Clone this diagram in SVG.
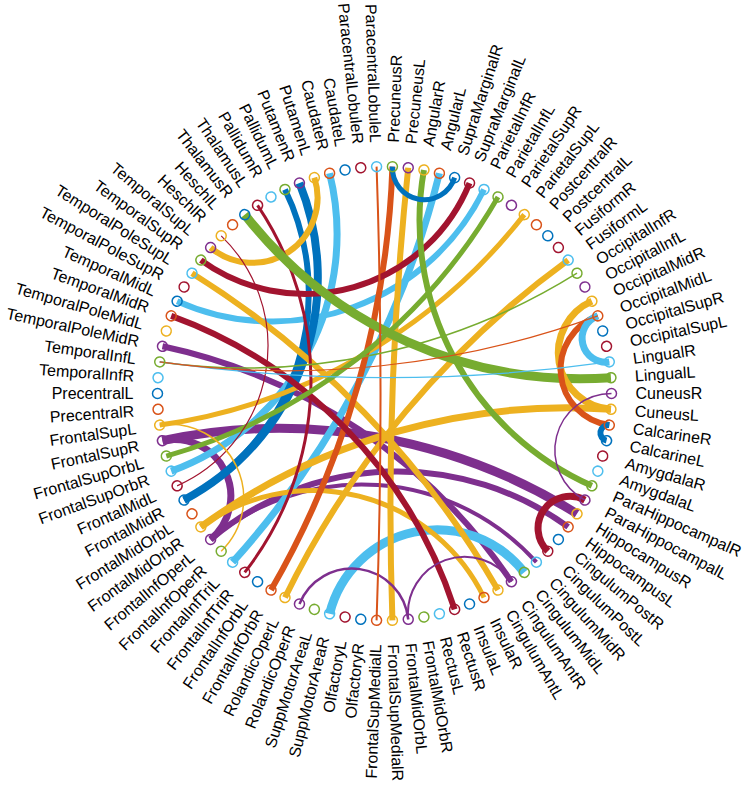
<svg xmlns="http://www.w3.org/2000/svg" width="746" height="789" viewBox="0 0 746 789">
<style>
text{font-family:"Liberation Sans",Arial,sans-serif;font-size:16px;fill:#000;stroke:none}
.n circle{fill:none;stroke-width:1.5}
.e use{fill:none}
.k0{stroke:#0072BD}.k1{stroke:#D95319}.k2{stroke:#EDB120}.k3{stroke:#7E2F8E}.k4{stroke:#77AC30}.k5{stroke:#4DBEEE}.k6{stroke:#A2142F}
</style>
<defs>
<path id="h2" d="M226.86,-7.92A7.93,7.93 0 0 0 226.86,7.92"/>
<path id="h6" d="M225.75,-23.73A23.86,23.86 0 0 0 225.75,23.73"/>
<path id="h8" d="M224.79,-31.59A31.9,31.9 0 0 0 224.79,31.59"/>
<path id="h14" d="M220.26,-54.92A56.6,56.6 0 0 0 220.26,54.92"/>
<path id="h16" d="M218.21,-62.57A65.09,65.09 0 0 0 218.21,62.57"/>
<path id="h18" d="M215.89,-70.15A73.76,73.76 0 0 0 215.89,70.15"/>
<path id="h26" d="M204.03,-99.52A110.71,110.71 0 0 0 204.03,99.52"/>
<path id="h34" d="M188.18,-126.94A153.11,153.11 0 0 0 188.18,126.94"/>
<path id="h38" d="M178.88,-139.76A177.36,177.36 0 0 0 178.88,139.76"/>
<path id="h40" d="M173.88,-145.92A190.48,190.48 0 0 0 173.88,145.92"/>
<path id="h46" d="M157.7,-163.28A235.06,235.06 0 0 0 157.7,163.28"/>
<path id="h48" d="M151.89,-168.68A252.11,252.11 0 0 0 151.89,168.68"/>
<path id="h52" d="M139.76,-178.88A290.54,290.54 0 0 0 139.76,178.88"/>
<path id="h54" d="M133.43,-183.64A312.44,312.44 0 0 0 133.43,183.64"/>
<path id="h62" d="M106.58,-200.42A426.92,426.92 0 0 0 106.58,200.42"/>
<path id="h64" d="M99.52,-204.03A465.42,465.42 0 0 0 99.52,204.03"/>
<path id="h68" d="M85.03,-210.47A561.85,561.85 0 0 0 85.03,210.47"/>
<path id="h70" d="M77.64,-213.31A623.68,623.68 0 0 0 77.64,213.31"/>
<path id="h76" d="M54.92,-220.26A910.45,910.45 0 0 0 54.92,220.26"/>
<path id="h82" d="M31.59,-224.79A1615.2,1615.2 0 0 0 31.59,224.79"/>
<path id="h86" d="M15.83,-226.45A3246.3,3246.3 0 0 0 15.83,226.45"/>
<path id="h88" d="M7.92,-226.86A6500,6500 0 0 0 7.92,226.86"/>
</defs>
<rect width="746" height="789" fill="#fff"/>
<g id="connectors" class="e" transform="translate(384.5 393.5)">
<use href="#h68" class="k3" transform="rotate(-260)" stroke-width="9"/>
<use href="#h14" class="k3" transform="rotate(-206)" stroke-width="7"/>
<use href="#h52" class="k3" transform="rotate(-272)" stroke-width="6"/>
<use href="#h46" class="k3" transform="rotate(-266)" stroke-width="4"/>
<use href="#h68" class="k3" transform="rotate(-236)" stroke-width="6"/>
<use href="#h48" class="k5" transform="rotate(-152)" stroke-width="7"/>
<use href="#h76" class="k5" transform="rotate(-152)" stroke-width="7"/>
<use href="#h46" class="k5" transform="rotate(-110)" stroke-width="6"/>
<use href="#h26" class="k5" transform="rotate(-282)" stroke-width="9"/>
<use href="#h48" class="k0" transform="rotate(-160)" stroke-width="8"/>
<use href="#h46" class="k0" transform="rotate(-162)" stroke-width="6"/>
<use href="#h70" class="k2" transform="rotate(-286)" stroke-width="7"/>
<use href="#h76" class="k2" transform="rotate(-320)" stroke-width="6"/>
<use href="#h76" class="k2" transform="rotate(-224)" stroke-width="6"/>
<use href="#h16" class="k2" transform="rotate(-124)" stroke-width="6"/>
<use href="#h68" class="k2" transform="rotate(-120)" stroke-width="5"/>
<use href="#h40" class="k2" transform="rotate(-256)" stroke-width="5"/>
<use href="#h86" class="k2" transform="rotate(-358)" stroke-width="6"/>
<use href="#h76" class="k1" transform="rotate(-164)" stroke-width="6"/>
<use href="#h38" class="k6" transform="rotate(-106)" stroke-width="6"/>
<use href="#h64" class="k6" transform="rotate(-224)" stroke-width="6"/>
<use href="#h54" class="k6" transform="rotate(-178)" stroke-width="3"/>
<use href="#h52" class="k4" transform="rotate(-28)" stroke-width="6"/>
<use href="#h68" class="k4" transform="rotate(-128)" stroke-width="5"/>
<use href="#h62" class="k4" transform="rotate(-66)" stroke-width="9"/>
<use href="#h14" class="k2" transform="rotate(-10)" stroke-width="7"/>
<use href="#h14" class="k1" transform="rotate(-6)" stroke-width="6"/>
<use href="#h6" class="k5" transform="rotate(-14)" stroke-width="7"/>
<use href="#h2" class="k0" transform="rotate(-350)" stroke-width="6"/>
<use href="#h8" class="k0" transform="rotate(-80)" stroke-width="5"/>
<use href="#h8" class="k6" transform="rotate(-324)" stroke-width="7"/>
<use href="#h14" class="k3" transform="rotate(-262)" stroke-width="2.5"/>
<use href="#h14" class="k3" transform="rotate(-290)" stroke-width="2"/>
<use href="#h88" class="k1" transform="rotate(-180)" stroke-width="2"/>
<use href="#h34" class="k6" transform="rotate(-170)" stroke-width="1.2"/>
<use href="#h18" class="k2" transform="rotate(-206)" stroke-width="1.5"/>
<use href="#h70" class="k4" transform="rotate(-102)" stroke-width="1.5"/>
<use href="#h82" class="k5" transform="rotate(-90)" stroke-width="1.2"/>
<use href="#h76" class="k1" transform="rotate(-96)" stroke-width="1.2"/>
<use href="#h14" class="k3" transform="rotate(-346)" stroke-width="1.5"/>
</g>
<g id="nodes" class="n" transform="translate(384.5 393.5)">
<g id="n1" class="k0" transform="rotate(-180)"><circle cx="227" r="5"/><text transform="rotate(180)" x="-251" dy="0.35em" text-anchor="end">PrecentralL</text></g>
<g id="n2" class="k1" transform="rotate(-184)"><circle cx="227" r="5"/><text transform="rotate(180)" x="-251" dy="0.35em" text-anchor="end">PrecentralR</text></g>
<g id="n3" class="k2" transform="rotate(-188)"><circle cx="227" r="5"/><text transform="rotate(180)" x="-251" dy="0.35em" text-anchor="end">FrontalSupL</text></g>
<g id="n4" class="k3" transform="rotate(-192)"><circle cx="227" r="5"/><text transform="rotate(180)" x="-251" dy="0.35em" text-anchor="end">FrontalSupR</text></g>
<g id="n5" class="k4" transform="rotate(-196)"><circle cx="227" r="5"/><text transform="rotate(180)" x="-251" dy="0.35em" text-anchor="end">FrontalSupOrbL</text></g>
<g id="n6" class="k5" transform="rotate(-200)"><circle cx="227" r="5"/><text transform="rotate(180)" x="-251" dy="0.35em" text-anchor="end">FrontalSupOrbR</text></g>
<g id="n7" class="k6" transform="rotate(-204)"><circle cx="227" r="5"/><text transform="rotate(180)" x="-251" dy="0.35em" text-anchor="end">FrontalMidL</text></g>
<g id="n8" class="k0" transform="rotate(-208)"><circle cx="227" r="5"/><text transform="rotate(180)" x="-251" dy="0.35em" text-anchor="end">FrontalMidR</text></g>
<g id="n9" class="k1" transform="rotate(-212)"><circle cx="227" r="5"/><text transform="rotate(180)" x="-251" dy="0.35em" text-anchor="end">FrontalMidOrbL</text></g>
<g id="n10" class="k2" transform="rotate(-216)"><circle cx="227" r="5"/><text transform="rotate(180)" x="-251" dy="0.35em" text-anchor="end">FrontalMidOrbR</text></g>
<g id="n11" class="k3" transform="rotate(-220)"><circle cx="227" r="5"/><text transform="rotate(180)" x="-251" dy="0.35em" text-anchor="end">FrontalInfOperL</text></g>
<g id="n12" class="k4" transform="rotate(-224)"><circle cx="227" r="5"/><text transform="rotate(180)" x="-251" dy="0.35em" text-anchor="end">FrontalInfOperR</text></g>
<g id="n13" class="k5" transform="rotate(-228)"><circle cx="227" r="5"/><text transform="rotate(180)" x="-251" dy="0.35em" text-anchor="end">FrontalInfTriL</text></g>
<g id="n14" class="k6" transform="rotate(-232)"><circle cx="227" r="5"/><text transform="rotate(180)" x="-251" dy="0.35em" text-anchor="end">FrontalInfTriR</text></g>
<g id="n15" class="k0" transform="rotate(-236)"><circle cx="227" r="5"/><text transform="rotate(180)" x="-251" dy="0.35em" text-anchor="end">FrontalInfOrbL</text></g>
<g id="n16" class="k1" transform="rotate(-240)"><circle cx="227" r="5"/><text transform="rotate(180)" x="-251" dy="0.35em" text-anchor="end">FrontalInfOrbR</text></g>
<g id="n17" class="k2" transform="rotate(-244)"><circle cx="227" r="5"/><text transform="rotate(180)" x="-251" dy="0.35em" text-anchor="end">RolandicOperL</text></g>
<g id="n18" class="k3" transform="rotate(-248)"><circle cx="227" r="5"/><text transform="rotate(180)" x="-251" dy="0.35em" text-anchor="end">RolandicOperR</text></g>
<g id="n19" class="k4" transform="rotate(-252)"><circle cx="227" r="5"/><text transform="rotate(180)" x="-251" dy="0.35em" text-anchor="end">SuppMotorAreaL</text></g>
<g id="n20" class="k5" transform="rotate(-256)"><circle cx="227" r="5"/><text transform="rotate(180)" x="-251" dy="0.35em" text-anchor="end">SuppMotorAreaR</text></g>
<g id="n21" class="k6" transform="rotate(-260)"><circle cx="227" r="5"/><text transform="rotate(180)" x="-251" dy="0.35em" text-anchor="end">OlfactoryL</text></g>
<g id="n22" class="k0" transform="rotate(-264)"><circle cx="227" r="5"/><text transform="rotate(180)" x="-251" dy="0.35em" text-anchor="end">OlfactoryR</text></g>
<g id="n23" class="k1" transform="rotate(-268)"><circle cx="227" r="5"/><text transform="rotate(180)" x="-251" dy="0.35em" text-anchor="end">FrontalSupMedialL</text></g>
<g id="n24" class="k2" transform="rotate(-272)"><circle cx="227" r="5"/><text x="251" dy="0.35em">FrontalSupMedialR</text></g>
<g id="n25" class="k3" transform="rotate(-276)"><circle cx="227" r="5"/><text x="251" dy="0.35em">FrontalMidOrbL</text></g>
<g id="n26" class="k4" transform="rotate(-280)"><circle cx="227" r="5"/><text x="251" dy="0.35em">FrontalMidOrbR</text></g>
<g id="n27" class="k5" transform="rotate(-284)"><circle cx="227" r="5"/><text x="251" dy="0.35em">RectusL</text></g>
<g id="n28" class="k6" transform="rotate(-288)"><circle cx="227" r="5"/><text x="251" dy="0.35em">RectusR</text></g>
<g id="n29" class="k0" transform="rotate(-292)"><circle cx="227" r="5"/><text x="251" dy="0.35em">InsulaL</text></g>
<g id="n30" class="k1" transform="rotate(-296)"><circle cx="227" r="5"/><text x="251" dy="0.35em">InsulaR</text></g>
<g id="n31" class="k2" transform="rotate(-300)"><circle cx="227" r="5"/><text x="251" dy="0.35em">CingulumAntL</text></g>
<g id="n32" class="k3" transform="rotate(-304)"><circle cx="227" r="5"/><text x="251" dy="0.35em">CingulumAntR</text></g>
<g id="n33" class="k4" transform="rotate(-308)"><circle cx="227" r="5"/><text x="251" dy="0.35em">CingulumMidL</text></g>
<g id="n34" class="k5" transform="rotate(-312)"><circle cx="227" r="5"/><text x="251" dy="0.35em">CingulumMidR</text></g>
<g id="n35" class="k6" transform="rotate(-316)"><circle cx="227" r="5"/><text x="251" dy="0.35em">CingulumPostL</text></g>
<g id="n36" class="k0" transform="rotate(-320)"><circle cx="227" r="5"/><text x="251" dy="0.35em">CingulumPostR</text></g>
<g id="n37" class="k1" transform="rotate(-324)"><circle cx="227" r="5"/><text x="251" dy="0.35em">HippocampusL</text></g>
<g id="n38" class="k2" transform="rotate(-328)"><circle cx="227" r="5"/><text x="251" dy="0.35em">HippocampusR</text></g>
<g id="n39" class="k3" transform="rotate(-332)"><circle cx="227" r="5"/><text x="251" dy="0.35em">ParaHippocampalL</text></g>
<g id="n40" class="k4" transform="rotate(-336)"><circle cx="227" r="5"/><text x="251" dy="0.35em">ParaHippocampalR</text></g>
<g id="n41" class="k5" transform="rotate(-340)"><circle cx="227" r="5"/><text x="251" dy="0.35em">AmygdalaL</text></g>
<g id="n42" class="k6" transform="rotate(-344)"><circle cx="227" r="5"/><text x="251" dy="0.35em">AmygdalaR</text></g>
<g id="n43" class="k0" transform="rotate(-348)"><circle cx="227" r="5"/><text x="251" dy="0.35em">CalcarineL</text></g>
<g id="n44" class="k1" transform="rotate(-352)"><circle cx="227" r="5"/><text x="251" dy="0.35em">CalcarineR</text></g>
<g id="n45" class="k2" transform="rotate(-356)"><circle cx="227" r="5"/><text x="251" dy="0.35em">CuneusL</text></g>
<g id="n46" class="k3" transform="rotate(0)"><circle cx="227" r="5"/><text x="251" dy="0.35em">CuneusR</text></g>
<g id="n47" class="k4" transform="rotate(-4)"><circle cx="227" r="5"/><text x="251" dy="0.35em">LingualL</text></g>
<g id="n48" class="k5" transform="rotate(-8)"><circle cx="227" r="5"/><text x="251" dy="0.35em">LingualR</text></g>
<g id="n49" class="k6" transform="rotate(-12)"><circle cx="227" r="5"/><text x="251" dy="0.35em">OccipitalSupL</text></g>
<g id="n50" class="k0" transform="rotate(-16)"><circle cx="227" r="5"/><text x="251" dy="0.35em">OccipitalSupR</text></g>
<g id="n51" class="k1" transform="rotate(-20)"><circle cx="227" r="5"/><text x="251" dy="0.35em">OccipitalMidL</text></g>
<g id="n52" class="k2" transform="rotate(-24)"><circle cx="227" r="5"/><text x="251" dy="0.35em">OccipitalMidR</text></g>
<g id="n53" class="k3" transform="rotate(-28)"><circle cx="227" r="5"/><text x="251" dy="0.35em">OccipitalInfL</text></g>
<g id="n54" class="k4" transform="rotate(-32)"><circle cx="227" r="5"/><text x="251" dy="0.35em">OccipitalInfR</text></g>
<g id="n55" class="k5" transform="rotate(-36)"><circle cx="227" r="5"/><text x="251" dy="0.35em">FusiformL</text></g>
<g id="n56" class="k6" transform="rotate(-40)"><circle cx="227" r="5"/><text x="251" dy="0.35em">FusiformR</text></g>
<g id="n57" class="k0" transform="rotate(-44)"><circle cx="227" r="5"/><text x="251" dy="0.35em">PostcentralL</text></g>
<g id="n58" class="k1" transform="rotate(-48)"><circle cx="227" r="5"/><text x="251" dy="0.35em">PostcentralR</text></g>
<g id="n59" class="k2" transform="rotate(-52)"><circle cx="227" r="5"/><text x="251" dy="0.35em">ParietalSupL</text></g>
<g id="n60" class="k3" transform="rotate(-56)"><circle cx="227" r="5"/><text x="251" dy="0.35em">ParietalSupR</text></g>
<g id="n61" class="k4" transform="rotate(-60)"><circle cx="227" r="5"/><text x="251" dy="0.35em">ParietalInfL</text></g>
<g id="n62" class="k5" transform="rotate(-64)"><circle cx="227" r="5"/><text x="251" dy="0.35em">ParietalInfR</text></g>
<g id="n63" class="k6" transform="rotate(-68)"><circle cx="227" r="5"/><text x="251" dy="0.35em">SupraMarginalL</text></g>
<g id="n64" class="k0" transform="rotate(-72)"><circle cx="227" r="5"/><text x="251" dy="0.35em">SupraMarginalR</text></g>
<g id="n65" class="k1" transform="rotate(-76)"><circle cx="227" r="5"/><text x="251" dy="0.35em">AngularL</text></g>
<g id="n66" class="k2" transform="rotate(-80)"><circle cx="227" r="5"/><text x="251" dy="0.35em">AngularR</text></g>
<g id="n67" class="k3" transform="rotate(-84)"><circle cx="227" r="5"/><text x="251" dy="0.35em">PrecuneusL</text></g>
<g id="n68" class="k4" transform="rotate(-88)"><circle cx="227" r="5"/><text x="251" dy="0.35em">PrecuneusR</text></g>
<g id="n69" class="k5" transform="rotate(-92)"><circle cx="227" r="5"/><text transform="rotate(180)" x="-251" dy="0.35em" text-anchor="end">ParacentralLobuleL</text></g>
<g id="n70" class="k6" transform="rotate(-96)"><circle cx="227" r="5"/><text transform="rotate(180)" x="-251" dy="0.35em" text-anchor="end">ParacentralLobuleR</text></g>
<g id="n71" class="k0" transform="rotate(-100)"><circle cx="227" r="5"/><text transform="rotate(180)" x="-251" dy="0.35em" text-anchor="end">CaudateL</text></g>
<g id="n72" class="k1" transform="rotate(-104)"><circle cx="227" r="5"/><text transform="rotate(180)" x="-251" dy="0.35em" text-anchor="end">CaudateR</text></g>
<g id="n73" class="k2" transform="rotate(-108)"><circle cx="227" r="5"/><text transform="rotate(180)" x="-251" dy="0.35em" text-anchor="end">PutamenL</text></g>
<g id="n74" class="k3" transform="rotate(-112)"><circle cx="227" r="5"/><text transform="rotate(180)" x="-251" dy="0.35em" text-anchor="end">PutamenR</text></g>
<g id="n75" class="k4" transform="rotate(-116)"><circle cx="227" r="5"/><text transform="rotate(180)" x="-251" dy="0.35em" text-anchor="end">PallidumL</text></g>
<g id="n76" class="k5" transform="rotate(-120)"><circle cx="227" r="5"/><text transform="rotate(180)" x="-251" dy="0.35em" text-anchor="end">PallidumR</text></g>
<g id="n77" class="k6" transform="rotate(-124)"><circle cx="227" r="5"/><text transform="rotate(180)" x="-251" dy="0.35em" text-anchor="end">ThalamusL</text></g>
<g id="n78" class="k0" transform="rotate(-128)"><circle cx="227" r="5"/><text transform="rotate(180)" x="-251" dy="0.35em" text-anchor="end">ThalamusR</text></g>
<g id="n79" class="k1" transform="rotate(-132)"><circle cx="227" r="5"/><text transform="rotate(180)" x="-251" dy="0.35em" text-anchor="end">HeschlL</text></g>
<g id="n80" class="k2" transform="rotate(-136)"><circle cx="227" r="5"/><text transform="rotate(180)" x="-251" dy="0.35em" text-anchor="end">HeschlR</text></g>
<g id="n81" class="k3" transform="rotate(-140)"><circle cx="227" r="5"/><text transform="rotate(180)" x="-251" dy="0.35em" text-anchor="end">TemporalSupL</text></g>
<g id="n82" class="k4" transform="rotate(-144)"><circle cx="227" r="5"/><text transform="rotate(180)" x="-251" dy="0.35em" text-anchor="end">TemporalSupR</text></g>
<g id="n83" class="k5" transform="rotate(-148)"><circle cx="227" r="5"/><text transform="rotate(180)" x="-251" dy="0.35em" text-anchor="end">TemporalPoleSupL</text></g>
<g id="n84" class="k6" transform="rotate(-152)"><circle cx="227" r="5"/><text transform="rotate(180)" x="-251" dy="0.35em" text-anchor="end">TemporalPoleSupR</text></g>
<g id="n85" class="k0" transform="rotate(-156)"><circle cx="227" r="5"/><text transform="rotate(180)" x="-251" dy="0.35em" text-anchor="end">TemporalMidL</text></g>
<g id="n86" class="k1" transform="rotate(-160)"><circle cx="227" r="5"/><text transform="rotate(180)" x="-251" dy="0.35em" text-anchor="end">TemporalMidR</text></g>
<g id="n87" class="k2" transform="rotate(-164)"><circle cx="227" r="5"/><text transform="rotate(180)" x="-251" dy="0.35em" text-anchor="end">TemporalPoleMidL</text></g>
<g id="n88" class="k3" transform="rotate(-168)"><circle cx="227" r="5"/><text transform="rotate(180)" x="-251" dy="0.35em" text-anchor="end">TemporalPoleMidR</text></g>
<g id="n89" class="k4" transform="rotate(-172)"><circle cx="227" r="5"/><text transform="rotate(180)" x="-251" dy="0.35em" text-anchor="end">TemporalInfL</text></g>
<g id="n90" class="k5" transform="rotate(-176)"><circle cx="227" r="5"/><text transform="rotate(180)" x="-251" dy="0.35em" text-anchor="end">TemporalInfR</text></g>
</g>
</svg>
